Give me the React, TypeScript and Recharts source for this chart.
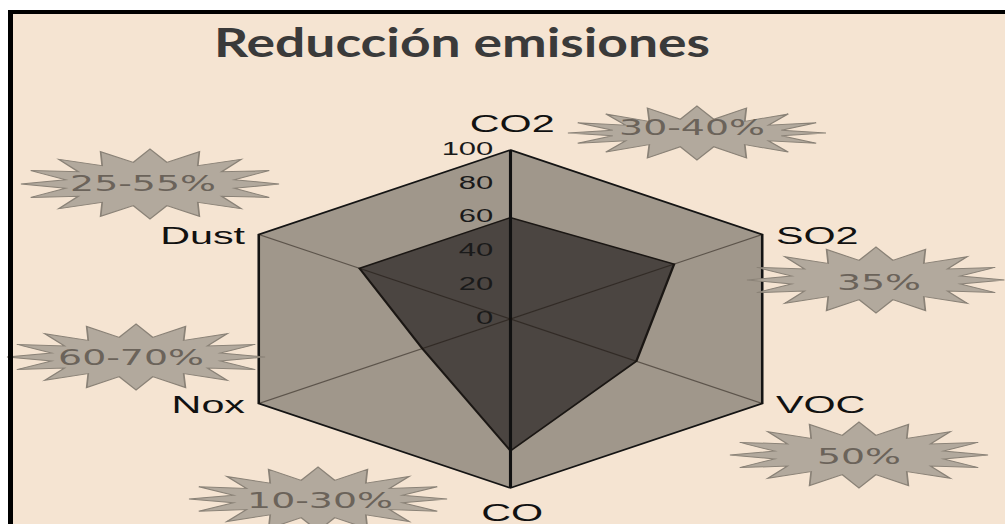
import { PolarAngleAxis, PolarRadiusAxis, Radar, RadarChart } from 'recharts';

// pollutants clockwise from the top axis
const pollutants = ['CO2', 'SO2', 'VOC', 'CO', 'Nox', 'Dust'];
const reductionIndex = [60, 65, 50, 78, 35, 60];
const reductionRanges = ['30-40%', '35%', '50%', '10-30%', '60-70%', '25-55%'];
const radiusTicks = [0, 20, 40, 60, 80, 100];

const AXIS_MAX = radiusTicks[radiusTicks.length - 1];

const rows = pollutants.map((name, i) => ({
  name,
  value: reductionIndex[i],
  full: AXIS_MAX,
}));

// the whole diagram is drawn wide: everything inside the chart layer is stretched by SX
const W = 1005;
const H = 524;
const SX = 1.72;
const LW = W / SX;
const CX = 510.5 / SX;
const CY = 319;
const R = 169;

const BG = '#f5e4d2';
const HEX_FILL = '#a0978b';
const CORE_FILL = '#4b4541';
const BURST_FILL = '#b2a99d';
const BURST_EDGE = '#8a8277';
const BURST_TEXT = '#6b635a';

// burst badges, page pixels, same order as pollutants
const BURSTS = [
  { x: 697, y: 133, ry: 27, tx: 692, ty: 127 },
  { x: 876, y: 280, ry: 33, tx: 879, ty: 282 },
  { x: 859, y: 455, ry: 33, tx: 859, ty: 456 },
  { x: 318, y: 499, ry: 32, tx: 320, ty: 500 },
  { x: 136, y: 357, ry: 33, tx: 131, ty: 357 },
  { x: 150, y: 184, ry: 35, tx: 143, ty: 183 },
];

function burstPath(cx: number, cy: number, rx: number, ry: number) {
  const n = 16;
  const pts: string[] = [];
  for (let k = 0; k < n * 2; k++) {
    const a = (Math.PI * k) / n;
    const outer = k % 2 === 0;
    const ex = outer ? rx : rx - 25;
    const ey = outer ? ry : ry - 13;
    pts.push(`${(cx + ex * Math.cos(a)).toFixed(1)},${(cy + ey * Math.sin(a)).toFixed(1)}`);
  }
  return pts.join(' ');
}

function AngleTick(props: any) {
  const { x, y, payload } = props;
  const a = Math.atan2(y - CY, x - CX);
  const vx = CX + R * Math.cos(a);
  const vy = CY + R * Math.sin(a);
  const c = Math.cos(a);
  let tx = vx;
  let ty = vy + 1;
  let anchor: 'start' | 'middle' | 'end' = 'middle';
  if (Math.abs(c) < 0.1) {
    tx = vx + 1;
    ty = vy + (Math.sin(a) < 0 ? -27 : 24);
  } else if (c > 0) {
    tx = vx + 8;
    anchor = 'start';
  } else {
    tx = vx - 8;
    anchor = 'end';
  }
  return (
    <text
      x={tx}
      y={ty}
      textAnchor={anchor}
      dominantBaseline="central"
      fontFamily="'Liberation Sans', Arial, sans-serif"
      fontSize={24}
      fill="#111"
    >
      {payload.value}
    </text>
  );
}

function RadiusTick(props: any) {
  const { x, y, payload } = props;
  return (
    <text
      x={x - 10}
      y={y - 1.5}
      textAnchor="end"
      dominantBaseline="central"
      fontFamily="'Liberation Sans', Arial, sans-serif"
      fontSize={18}
      fill="#1a1a1a"
    >
      {payload.value}
    </text>
  );
}

// radial lines drawn over both polygons; the vertical pair is heavier
function Spokes(props: any) {
  const points = props.points ?? [];
  return (
    <g>
      {points.map((p: any, i: number) => (
        <line
          key={i}
          x1={CX}
          y1={CY}
          x2={p.x}
          y2={p.y}
          stroke={i % 3 === 0 ? '#111' : 'rgba(25,18,12,0.5)'}
          strokeWidth={i % 3 === 0 ? 1.8 : 1}
        />
      ))}
    </g>
  );
}

export default function App() {
  return (
    <div
      style={{
        position: 'absolute',
        left: 0,
        top: 0,
        width: W,
        height: H,
        overflow: 'hidden',
        background: '#fff',
      }}
    >
      <div style={{ position: 'absolute', left: 8, top: 10, width: W - 8, height: H - 10, background: BG }} />

      <svg style={{ position: 'absolute', left: 0, top: 0 }} width={W} height={80}>
        <text
          x={214}
          y={57}
          textLength={496}
          lengthAdjust="spacingAndGlyphs"
          fontFamily="Lato, 'Open Sans', sans-serif"
          fontWeight={700}
          fontSize={41}
          fill="#3a3a3a"
        >
          Reducción emisiones
        </text>
      </svg>

      <div
        style={{
          position: 'absolute',
          left: 0,
          top: 0,
          width: LW,
          height: H,
          transform: `scaleX(${SX})`,
          transformOrigin: '0 0',
        }}
      >
        <RadarChart
          width={LW}
          height={H}
          data={rows}
          cx={CX}
          cy={CY}
          outerRadius={R}
          margin={{ top: 0, right: 0, bottom: 0, left: 0 }}
        >
          <PolarAngleAxis dataKey="name" tick={AngleTick} tickLine={false} axisLine={false} />
          <Radar
            dataKey="full"
            fill={HEX_FILL}
            fillOpacity={1}
            stroke="#141414"
            strokeWidth={1.5}
            isAnimationActive={false}
          />
          <Radar
            dataKey="value"
            fill={CORE_FILL}
            fillOpacity={1}
            stroke="#1b1714"
            strokeWidth={1.4}
            isAnimationActive={false}
          />
          <Radar dataKey="full" fill="none" stroke="none" shape={Spokes} isAnimationActive={false} />
          <PolarRadiusAxis
            angle={90}
            domain={[radiusTicks[0], AXIS_MAX]}
            tickCount={radiusTicks.length}
            tick={RadiusTick}
            axisLine={false}
            tickLine={false}
          />
        </RadarChart>

        <svg style={{ position: 'absolute', left: 0, top: 0 }} width={LW} height={H}>
          {BURSTS.map((b, i) => (
            <g key={reductionRanges[i]}>
              <polygon
                points={burstPath(b.x / SX, b.y, 75, b.ry)}
                fill={BURST_FILL}
                stroke={BURST_EDGE}
                strokeWidth={1}
              />
              <text
                x={b.tx / SX}
                y={b.ty}
                textAnchor="middle"
                dominantBaseline="central"
                fontFamily="'DejaVu Sans', sans-serif"
                fontSize={22}
                fill={BURST_TEXT}
              >
                {reductionRanges[i]}
              </text>
            </g>
          ))}
        </svg>
      </div>

      <div
        style={{
          position: 'absolute',
          left: 8,
          top: 10,
          width: W - 8,
          height: H - 10,
          borderTop: '4px solid #000',
          borderLeft: '5px solid #000',
          boxSizing: 'border-box',
          pointerEvents: 'none',
        }}
      />
    </div>
  );
}
